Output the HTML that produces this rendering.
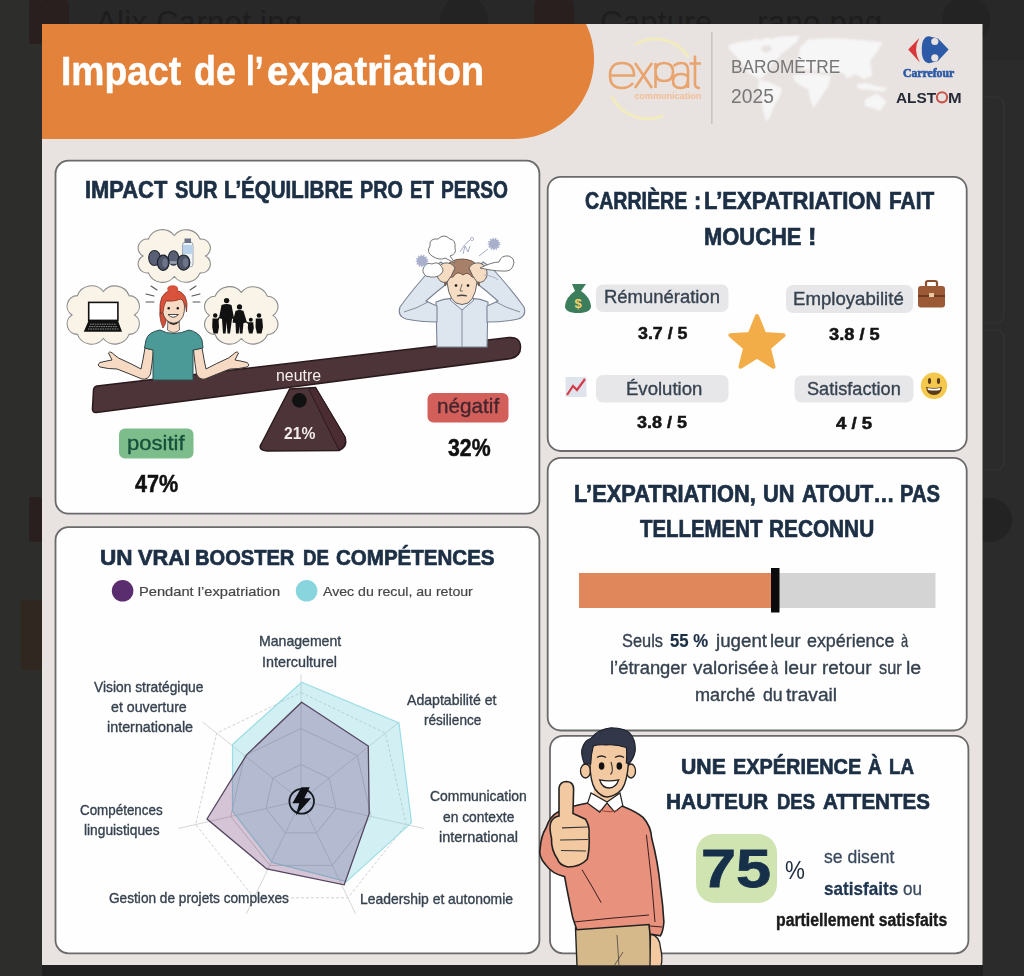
<!DOCTYPE html>
<html><head><meta charset="utf-8">
<style>
*{margin:0;padding:0;box-sizing:border-box}
html,body{width:1024px;height:976px;overflow:hidden;background:#2c2c2c;font-family:"Liberation Sans",sans-serif;position:relative}
.t{position:absolute;white-space:nowrap;transform-origin:0 0}
svg{position:absolute;left:0;top:0}
</style></head><body>
<svg width="1024" height="976" viewBox="0 0 1024 976">
<rect x="0" y="0" width="1024" height="976" fill="#2b2b2b"/>
<rect x="0" y="0" width="1024" height="60" fill="#282828"/>
<rect x="29" y="0" width="40" height="44" rx="5" fill="#2a1f1f"/>
<text x="96" y="33" font-family="Liberation Sans" font-size="31" fill="#1d1d1d" textLength="206">Alix Carnot.jpg</text>
<circle cx="464" cy="20" r="24" fill="#232323"/>
<rect x="534" y="0" width="40" height="44" rx="5" fill="#2a1f1f"/>
<text x="600" y="33" font-family="Liberation Sans" font-size="31" fill="#1d1d1d" textLength="282">Capture ... rano.png</text>
<circle cx="966" cy="20" r="24" fill="#232323"/>
<rect x="29" y="497" width="14" height="45" rx="4" fill="#2a1f1f"/>
<rect x="21" y="600" width="22" height="70" fill="#302720"/>
<circle cx="990" cy="520" r="22" fill="#232323"/>
<rect x="42" y="964" width="941" height="12" fill="#202020"/>
<rect x="0" y="0" width="42" height="976" fill="#2d2d2c"/>
<rect x="29" y="0" width="13" height="44" rx="3" fill="#2a1f1f"/>
<rect x="29" y="497" width="13" height="45" rx="3" fill="#2a1f1f"/>
<rect x="21" y="600" width="21" height="70" fill="#302720"/>
<rect x="950" y="97" width="54" height="226" rx="8" fill="none" stroke="#353535" stroke-width="1.2"/>
<rect x="950" y="330" width="54" height="140" rx="8" fill="none" stroke="#353535" stroke-width="1.2"/>

<rect x="42" y="24" width="940.5" height="941" fill="#e8e3e0"/>
<path d="M42 24 H586 A80 80 0 0 1 514 139 H42 Z" fill="#e3823b"/>
<rect x="55.5" y="160.7" width="483.9" height="353.0" rx="13" ry="13" fill="#fefefe" stroke="#6a6a6a" stroke-width="1.8"/>
<rect x="55.5" y="527.2" width="483.9" height="426.1" rx="13" ry="13" fill="#fefefe" stroke="#6a6a6a" stroke-width="1.8"/>
<rect x="547.7" y="176.8" width="419.0" height="274.2" rx="13" ry="13" fill="#fefefe" stroke="#6a6a6a" stroke-width="1.8"/>
<rect x="547.7" y="457.9" width="419.0" height="272.6" rx="13" ry="13" fill="#fefefe" stroke="#6a6a6a" stroke-width="1.8"/>
<rect x="550.0" y="735.9" width="418.4" height="217.4" rx="13" ry="13" fill="#fefefe" stroke="#6a6a6a" stroke-width="1.8"/>

<filter id="mapblur" filterUnits="userSpaceOnUse" x="700" y="20" width="210" height="120"><feGaussianBlur stdDeviation="0.9"/></filter>
<g fill="#f7f6f7" filter="url(#mapblur)">
<path d="M728 46 L736 43 L741 41.5 L750 41 L756 39 L761 40 L766 38 L772 39 L778 37 L786 36.5 L799 35.8 L797 42 L791 46 L787 50 L782 53 L778 58 L772 64 L769 70 L765 75 L760 79.5 L754 76 L748 72.5 L743 65 L737 57 L730 50 Z"/>
<path d="M762 46 L770 45 L772 50 L766 53 L761 50 Z" fill="#e8e3e0"/>
<path d="M759 80 L770 82.5 L782 88.6 L780 96 L774 106 L770 116.8 L766.4 121.5 L763 110 L761.7 98 L758 88 Z"/>
<path d="M800 47.4 L808.5 39.2 L831 38.2 L851.5 39.2 L882.3 42.3 L878 50.5 L870 60.8 L872 76 L863.8 79.2 L856 74 L847.4 78.2 L842 72 L835 73 L823.8 72 L812 70 L803 69 L797 62 L799 54 Z"/>
<path d="M793 75 L812 73.5 L831 76 L828 86.4 L821 97 L813.6 108 L810 99 L808.5 89.5 L800 85 L795 81.3 Z"/>
<path d="M865 99.7 L877 93.6 L886.4 101.8 L880 111 L872 108 L865 106 Z"/>
<path d="M856.7 84 L866 83 L876 86 L887.4 88 L884 91.5 L870 90 L858 89 Z"/>
</g>
<path d="M636 44 A40 40 0 0 1 688 56" fill="none" stroke="#f2ebc0" stroke-width="3" stroke-linecap="round"/>
<path d="M612 97 A40 40 0 0 0 662 116" fill="none" stroke="#f2ebc0" stroke-width="3" stroke-linecap="round"/>
<g fill="none" stroke="#e9a46e" stroke-width="2.6">
<path d="M610.5 75.5 L634 75.5 Q634 63 622 63 Q610 63 610 75.5 Q610 88 622 88 Q629 88 633 83"/>
<path d="M635 63 L652 88 M652 63 L635 88"/>
<path d="M655.5 63 L655.5 88 M655.5 72 Q655.5 63 664 63 Q673 63 673 72 Q673 81 664 81 Q655.5 81 655.5 72"/>
<path d="M673.5 66 Q677 63 681 63 Q688 63 688 70 L688 88 M688 79 Q688 88 680.5 88 Q673 88 673 81 Q673 74 681 74 Q686 74 688 77"/>
<path d="M695 55.5 L695 84 Q695 88 700 88 M689.5 63.5 L701 63.5"/>
</g>
<text x="634.5" y="98.6" font-family="Liberation Sans" font-weight="bold" font-size="9" fill="#f2bf98" textLength="67" lengthAdjust="spacingAndGlyphs">communication</text>
<rect x="711" y="32" width="1.6" height="92" fill="#c9c5c1"/>

<path d="M919.3 37.9 L908.2 49.6 L919.9 62.5 Q912.5 49.6 919.3 37.9 Z" fill="#d8383a"/>
<path d="M929 36.3 Q921.5 37 921.8 49.6 Q921.5 62.5 929 63.2 L938 61 L948.6 49.6 L938 38.5 Z" fill="#2d5aa6"/>
<circle cx="934.8" cy="41.5" r="3.6" fill="#e8e3e0"/>
<circle cx="934.8" cy="57.8" r="3.6" fill="#e8e3e0"/>
<circle cx="942" cy="97.3" r="5.1" fill="none" stroke="#c9554b" stroke-width="2.1"/>
</svg>
<svg width="1024" height="976" viewBox="0 0 1024 976">
<path d="M289.7 389 L315.5 387.5 L345 437 Q348 447 339 450.5 L267 451 Q257 450 261.5 443.5 Z" fill="#4d3438" stroke="#2b1a1d" stroke-width="1.4"/>
<path d="M308.5 388.6 L315.5 387.5 L345 437 Q347 446 339 450 Z" fill="#4a2c32" stroke="#2b1a1d" stroke-width="1"/>
<path d="M97 386 L509 337.5 Q520 336.5 520.5 346.5 Q521 356 511 358.5 L96.5 412.5 Q92 413 92.5 408 L93.5 390 Q94 386.4 97 386 Z" fill="#4d3438" stroke="#2b1a1d" stroke-width="1.5"/>
<circle cx="299.4" cy="400.4" r="7.3" fill="#111"/>

<rect x="119" y="428.5" width="74.5" height="30" rx="6" fill="#7dbd8c"/>
<rect x="427.5" y="393" width="81" height="29.5" rx="6" fill="#d35f5b"/>

<rect x="596" y="284.5" width="132.5" height="27.5" rx="7" fill="#e7e7e9"/>
<rect x="786" y="285" width="127" height="28" rx="7" fill="#e7e7e9"/>
<rect x="596" y="375" width="132.5" height="27.5" rx="7" fill="#e7e7e9"/>
<rect x="794.5" y="375.5" width="119" height="27" rx="7" fill="#e7e7e9"/>
<polygon points="757.0,316.0 764.3,333.9 783.6,335.3 768.9,347.9 773.5,366.7 757.0,356.5 740.5,366.7 745.1,347.9 730.4,335.3 749.7,333.9" fill="#f2ad48" stroke="#f2ad48" stroke-width="4" stroke-linejoin="round"/>
<!-- money bag -->
<path d="M572 284 L586 284 L581 291 Q590 297 591 306 Q591 313 578 313 Q565 313 565 306 Q566 297 575 291 Z" fill="#3c7d5c"/>
<text x="578" y="308" font-family="Liberation Sans" font-weight="bold" font-size="13" fill="#f2d46a" text-anchor="middle">$</text>
<!-- chart -->
<rect x="565.5" y="377" width="21" height="20" fill="#dfe4ec"/>
<path d="M567 395 L573 386 L577 390 L585 379" fill="none" stroke="#d43a4a" stroke-width="2.2"/>
<!-- briefcase -->
<rect x="926" y="281" width="11" height="7" rx="2" fill="none" stroke="#8a4f2e" stroke-width="2.2"/>
<rect x="918" y="286" width="27" height="21.5" rx="3" fill="#9b5a35"/>
<rect x="918" y="295" width="27" height="2" fill="#6e3c22"/>
<rect x="929" y="293" width="5" height="4" fill="#e8c9a0"/>
<!-- smiley -->
<circle cx="934" cy="385.8" r="13.2" fill="#f4c84c"/>
<ellipse cx="929.5" cy="381" rx="1.6" ry="3" fill="#5b3a1a"/>
<ellipse cx="938.5" cy="381" rx="1.6" ry="3" fill="#5b3a1a"/>
<path d="M926 387 Q934 389 942 387 Q941 395 934 395 Q927 395 926 387 Z" fill="#5b3a1a"/>
<path d="M927.5 388 Q934 389.5 940.5 388 L940 390 Q934 391 928 390 Z" fill="#fff"/>

<rect x="579" y="573" width="356.5" height="35" fill="#d4d4d4"/>
<rect x="579" y="573" width="193" height="35" fill="#e0875c"/>
<rect x="771" y="568" width="8.5" height="44.5" fill="#0b0b0b"/>
<rect x="696" y="834" width="81" height="69" rx="19" fill="#d0e4b2"/>
<circle cx="122.6" cy="590.8" r="10.8" fill="#5a2d6e"/>
<circle cx="306.6" cy="590.8" r="10.8" fill="#88d5de"/>

<polygon points="301.0,764.5 329.1,778.1 336.1,808.5 316.6,832.9 285.4,832.9 265.9,808.5 272.9,778.1" fill="none" stroke="#d0d0d0" stroke-width="1"/><polygon points="301.0,728.5 357.3,755.6 371.2,816.5 332.2,865.4 269.8,865.4 230.8,816.5 244.7,755.6" fill="none" stroke="#d0d0d0" stroke-width="1"/><polygon points="301.0,692.5 385.4,733.2 406.3,824.5 347.9,897.8 254.1,897.8 195.7,824.5 216.6,733.2" fill="none" stroke="#d2d2d2" stroke-width="1" stroke-dasharray="3 2"/><line x1="301" y1="800.5" x2="301.0" y2="674.5" stroke="#d6d6d6" stroke-width="1"/><line x1="301" y1="800.5" x2="399.5" y2="721.9" stroke="#d6d6d6" stroke-width="1"/><line x1="301" y1="800.5" x2="423.8" y2="828.5" stroke="#d6d6d6" stroke-width="1"/><line x1="301" y1="800.5" x2="355.7" y2="914.0" stroke="#d6d6d6" stroke-width="1"/><line x1="301" y1="800.5" x2="246.3" y2="914.0" stroke="#d6d6d6" stroke-width="1"/><line x1="301" y1="800.5" x2="178.2" y2="828.5" stroke="#d6d6d6" stroke-width="1"/><line x1="301" y1="800.5" x2="202.5" y2="721.9" stroke="#d6d6d6" stroke-width="1"/>
<polygon points="301.7,682.3 399,723 411.5,822.6 346.5,881.6 272.2,862.4 232.5,811 232.5,744.5" fill="rgba(120,212,224,0.33)" stroke="#9adde4" stroke-width="1.2"/>
<polygon points="301.7,702.2 368.3,746 369.2,813.7 344.2,884.8 266.8,869 207,819 246.6,754.8" fill="rgba(98,42,108,0.27)" stroke="#54465f" stroke-width="1.3"/>
<circle cx="301.7" cy="801.3" r="12.3" fill="none" stroke="#151a22" stroke-width="1.8"/>
<path d="M301.5 787.3 L309.8 787.3 L304.3 798.3 L311.2 798.3 L295.8 815.5 L299.3 803.2 L292.4 803.2 Z" fill="#0d0f14"/>
<path d="M174.3 235.5 A15.1 15.1 0 0 1 200.1 239.1 A9.0 9.0 0 0 1 205.5 256.0 A9.0 9.0 0 0 1 200.1 272.9 A15.1 15.1 0 0 1 174.3 276.5 A15.1 15.1 0 0 1 148.4 272.9 A9.0 9.0 0 0 1 143.0 256.0 A9.0 9.0 0 0 1 148.4 239.1 A15.1 15.1 0 0 1 174.3 235.5 Z" fill="#f9f4e7" stroke="#8c8c8c" stroke-width="1.1"/><path d="M103.3 291.5 A15.1 15.1 0 0 1 129.1 295.6 A10.5 10.5 0 0 1 134.5 315.0 A10.5 10.5 0 0 1 129.1 334.4 A15.1 15.1 0 0 1 103.3 338.5 A15.1 15.1 0 0 1 77.4 334.4 A10.5 10.5 0 0 1 72.0 315.0 A10.5 10.5 0 0 1 77.4 295.6 A15.1 15.1 0 0 1 103.3 291.5 Z" fill="#f9f4e7" stroke="#8c8c8c" stroke-width="1.1"/><path d="M241.3 292.3 A15.5 15.5 0 0 1 267.5 296.3 A10.3 10.3 0 0 1 273.0 315.4 A10.3 10.3 0 0 1 267.5 334.5 A15.5 15.5 0 0 1 241.3 338.5 A15.5 15.5 0 0 1 215.0 334.5 A10.3 10.3 0 0 1 209.5 315.4 A10.3 10.3 0 0 1 215.0 296.3 A15.5 15.5 0 0 1 241.3 292.3 Z" fill="#f9f4e7" stroke="#8c8c8c" stroke-width="1.1"/>
<rect x="88.7" y="302.4" width="29.2" height="18" fill="#fff" stroke="#111" stroke-width="1.6"/>
<path d="M88.4 321 L118.1 321 L122 331.8 L83.75 331.8 Z" fill="#111"/>
<path d="M90 324.2 L116.5 324.2 M89 326.6 L117.5 326.6 M88 329 L118.5 329" stroke="#9a9a9a" stroke-width="0.9" stroke-dasharray="1.6 0.8"/>

<rect x="155" y="256.5" width="19" height="2.6" fill="#8a90a0"/>
<ellipse cx="154.5" cy="258" rx="5.8" ry="7.5" fill="#596075" stroke="#252a36" stroke-width="1.1"/>
<ellipse cx="173.5" cy="258" rx="5.2" ry="7.3" fill="#596075" stroke="#252a36" stroke-width="1.1"/>
<rect x="182.5" y="242" width="10.5" height="25" rx="3" fill="#eef3f8" stroke="#8a96a6" stroke-width="0.8"/>
<rect x="184.5" y="238.5" width="6.5" height="4.5" fill="#6a7484"/>
<rect x="183" y="245" width="9.5" height="9" fill="#b9d3ea"/>
<rect x="164" y="261.2" width="21" height="2.6" fill="#9aa0ae"/>
<ellipse cx="163.2" cy="262.8" rx="5.8" ry="7.6" fill="#4f566a" stroke="#1e222c" stroke-width="1.2"/>
<ellipse cx="183.6" cy="262.6" rx="6.2" ry="7.6" fill="#4f566a" stroke="#1e222c" stroke-width="1.2"/>
<ellipse cx="165" cy="262.8" rx="2.6" ry="4.5" fill="#6d7488"/>
<ellipse cx="185.5" cy="262.6" rx="2.6" ry="4.5" fill="#6d7488"/>
<g fill="#111">
<circle cx="226.6" cy="300.6" r="2.7"/>
<path d="M221.5 305 Q226.5 303 231.5 305 L234 318 L232 319 L230 333.4 L227.5 333.4 L226.6 322 L225.6 333.4 L223 333.4 L222 319 L219 318 Z"/>
<circle cx="239.5" cy="306.9" r="2.6"/>
<path d="M235.5 311 Q239.5 309 243.5 311 L247 322.5 L243.5 323 L242.5 333.4 L239.8 333.4 L239.5 326 L238.7 333.4 L236 333.4 L235.5 323 L232.5 322.5 Z"/>
<circle cx="215.2" cy="315.5" r="2.2"/>
<path d="M212.5 318.5 L218.5 318.5 L219 327 L217.8 333.4 L213.5 333.4 L212.2 327 Z"/>
<circle cx="250.8" cy="319.8" r="2"/>
<path d="M248.2 322.3 L253.2 322.3 L253.8 328 L252.5 333.4 L249 333.4 L247.8 328 Z"/>
<circle cx="259" cy="315.5" r="2.3"/>
<path d="M255.8 318.5 L262.2 318.5 L263 327 L261.5 333.4 L257 333.4 L255.5 327 Z"/>
</g>
<path d="M219.5 317 L218 320 M246.5 322 L248.5 323.5 M234 317.5 L233.5 321" stroke="#111" stroke-width="1.4"/>
<!-- arms -->
<path d="M145 348 L153.5 350 Q152 365 150.5 374 Q148 380 142 379 Q130 374 117 369 Q108 369 100 367 Q96.5 365 100 362.5 Q106 361 112 360 L108.5 353 Q110 350.5 114 354.5 L118.5 358 Q132 364 141 369 Q143 360 145 348 Z" fill="#f6dac3" stroke="#3a3a3a" stroke-width="1"/>
<path d="M202 348 L193.5 350 Q195 365 196.5 374 Q199 380 205 379 Q217 374 230 369 Q239 369 247 367 Q250.5 365 247 362.5 Q241 361 235 360 L238.5 353 Q237 350.5 233 354.5 L228.5 358 Q215 364 206 369 Q204 360 202 348 Z" fill="#f6dac3" stroke="#3a3a3a" stroke-width="1"/>
<!-- shirt -->
<path d="M160 330 Q173 337 189 330 Q199 332 202 340 L203 348 L193 350 L193 380 L153 380 L153 350 L144.5 348 L146 340 Q148 332 160 330 Z" fill="#4b9a98" stroke="#2f4f50" stroke-width="1"/>
<!-- neck -->
<path d="M168 316 L167.5 330 Q173.5 335 179.5 330 L179 316 Z" fill="#f6dac3" stroke="#3a3a3a" stroke-width="0.7"/>
<path d="M167.8 320 Q173.5 323 179.2 320 L179.2 322 Q173.5 328 167.8 322 Z" fill="#2a2222"/>
<!-- hair back / ponytail -->
<path d="M162 300 Q157 315 163 328 Q168 322 167 305 Z" fill="#d2503a" stroke="#7a2a1c" stroke-width="0.7"/>
<!-- face -->
<path d="M162.5 306 Q162 318 169 322 Q173.5 324.5 178 322 Q185 318 184.5 306 Q184 296 173.5 295 Q163 296 162.5 306 Z" fill="#f6dac3" stroke="#3a3a3a" stroke-width="0.8"/>
<!-- hair -->
<path d="M160.5 314 Q157 292 173.5 289.5 Q190 292 186.5 312 Q185.5 302 181 299 Q174 302 166 301 Q163.5 306 163 312 Z" fill="#d9523c" stroke="#7a2a1c" stroke-width="0.7"/>
<ellipse cx="172.7" cy="289" rx="5.5" ry="3.8" fill="#d9523c"/>
<circle cx="168.7" cy="308.3" r="1.2" fill="#111"/>
<circle cx="177.8" cy="308.3" r="1.2" fill="#111"/>
<path d="M168 314.5 Q173 320 178.5 314.5 Z" fill="#fff" stroke="#333" stroke-width="0.9"/>
<!-- excitement lines -->
<path d="M151 286 L157 290 M146 294 L154 296 M146 302 L154 302 M196 286 L190 290 M200 294 L192 296 M200 302 L193 302" stroke="#555" stroke-width="1.1" stroke-linecap="round"/>

<!-- torso -->
<path d="M436 302 Q449 296 462 300 Q475 296 488 302 L487 347 L437 347 Z" fill="#dde5ef" stroke="#7a8494" stroke-width="1.1"/>
<!-- left arm -->
<path d="M441 262 Q452 272 449 282 Q436 292 426 301 Q432 304 437 306 L437 322 Q420 322 406 319 Q397 316 400 307 Q412 290 432 268 Z" fill="#dde5ef" stroke="#7a8494" stroke-width="1.1"/>
<!-- right arm -->
<path d="M483 262 Q472 272 475 282 Q488 292 498 301 Q492 304 487 306 L487 322 Q504 322 518 319 Q527 316 524 307 Q512 290 492 268 Z" fill="#dde5ef" stroke="#7a8494" stroke-width="1.1"/>
<path d="M404 312 Q418 308 428 302 M520 312 Q506 308 496 302" stroke="#7a8494" stroke-width="0.9" fill="none"/>
<!-- collar -->
<path d="M450 300 L462 310 L474 300 L470 296 L462 302 L454 296 Z" fill="#e8eef5" stroke="#7a8494" stroke-width="1"/>
<path d="M462 310 L462 347" stroke="#7a8494" stroke-width="0.9"/>
<!-- neck shadow -->
<path d="M454 296 Q462 303 470 296 L466 292 Q462 295 458 292 Z" fill="#222"/>
<!-- face -->
<path d="M447 272 Q446 296 456 303 Q462 306 468 303 Q478 296 477 272 Q462 264 447 272 Z" fill="#f5dcc2" stroke="#555" stroke-width="0.9"/>
<circle cx="456" cy="285.5" r="1.3" fill="#111"/>
<circle cx="468" cy="285.5" r="1.3" fill="#111"/>
<path d="M462 284 L460 291 L463 291" stroke="#555" stroke-width="0.8" fill="none"/>
<path d="M457 296 Q462 294.5 467 296" stroke="#444" stroke-width="1.3" fill="none"/>
<!-- hair -->
<path d="M445 286 Q441 266 452 261 Q462 257 472 261 Q483 266 479 286 Q476 276 472 277 Q468 271 463 275 Q457 270 453 277 Q449 276 445 286 Z" fill="#a8806a" stroke="#5a4030" stroke-width="0.8"/>
<!-- hands -->
<path d="M437 276 Q436 266 444 263 Q452 262 455 268 Q452 276 447 282 Q440 284 437 276 Z" fill="#f5dcc2" stroke="#555" stroke-width="0.9"/>
<path d="M487 276 Q488 266 480 263 Q472 262 469 268 Q472 276 477 282 Q484 284 487 276 Z" fill="#f5dcc2" stroke="#555" stroke-width="0.9"/>
<!-- smoke & spiky -->
<path d="M432 256 Q426 252 430 246 Q429 238 438 239 Q444 233 450 239 Q456 240 455 248 Q457 254 450 256 L455 263 L445 258 Q440 261 432 256 Z" fill="#fff" stroke="#666" stroke-width="0.9"/>
<path d="M426 276 Q421 272 424 267 Q426 262 432 264 Q438 261 441 266 Q445 270 441 274 Q436 279 426 276 Z" fill="#fff" stroke="#666" stroke-width="0.9"/>
<path d="M480 268 Q492 262 499 262 Q501 255 509 256 Q516 259 513 266 Q511 272 502 271 Q494 271 480 268 Z" fill="#fff" stroke="#666" stroke-width="0.9"/>
<circle cx="422" cy="261" r="5" fill="#a8b0cc" stroke="#a8b0cc" stroke-width="2.5" stroke-dasharray="1.2 1.2"/>
<circle cx="494" cy="244" r="5" fill="#a8b0cc" stroke="#a8b0cc" stroke-width="2.5" stroke-dasharray="1.2 1.2"/>
<path d="M460 252 Q464 244 470 240 M479 256 L488 249 M484 275 Q494 276 498 280 M463 254 L465 246 L468 252 L470 246" stroke="#a8aec6" stroke-width="1" fill="none"/>
<circle cx="472" cy="239" r="1.6" fill="none" stroke="#a8aec6" stroke-width="0.9"/>
</svg>
<div class="t" style="left:60.94px;top:50.84px;font-size:40px;line-height:40px;font-weight:bold;color:#ffffff;font-family:'Liberation Sans',sans-serif;transform:scaleX(0.9312);-webkit-text-stroke:0.5px #ffffff;">Impact</div><div class="t" style="left:193.70px;top:50.84px;font-size:40px;line-height:40px;font-weight:bold;color:#ffffff;font-family:'Liberation Sans',sans-serif;transform:scaleX(0.8957);-webkit-text-stroke:0.5px #ffffff;">de</div><div class="t" style="left:245.73px;top:50.84px;font-size:40px;line-height:40px;font-weight:bold;color:#ffffff;font-family:'Liberation Sans',sans-serif;transform:scaleX(0.7840);-webkit-text-stroke:0.5px #ffffff;">l’</div><div class="t" style="left:266.54px;top:50.84px;font-size:40px;line-height:40px;font-weight:bold;color:#ffffff;font-family:'Liberation Sans',sans-serif;transform:scaleX(0.9584);-webkit-text-stroke:0.5px #ffffff;">expatriation</div><div class="t" style="left:730.77px;top:58.34px;font-size:18.5px;line-height:18.5px;font-weight:normal;color:#777777;font-family:'Liberation Sans',sans-serif;transform:scaleX(0.9332);">BAROMÈTRE</div><div class="t" style="left:731.00px;top:87.49px;font-size:19.5px;line-height:19.5px;font-weight:normal;color:#777777;font-family:'Liberation Sans',sans-serif;transform:scaleX(0.9877);">2025</div><div class="t" style="left:895.50px;top:90.05px;font-size:15px;line-height:15px;font-weight:bold;color:#262a36;font-family:'Liberation Sans',sans-serif;transform:scaleX(1.0256);">ALST</div><div class="t" style="left:948.41px;top:90.05px;font-size:15px;line-height:15px;font-weight:bold;color:#262a36;font-family:'Liberation Sans',sans-serif;transform:scaleX(1.0909);">M</div><div class="t" style="left:902.60px;top:67.67px;font-size:11.5px;line-height:11.5px;font-weight:bold;color:#2d5aa6;font-family:'Liberation Serif',sans-serif;transform:scaleX(1.0172);-webkit-text-stroke:0.6px #2d5aa6;">Carrefour</div><div class="t" style="left:84.96px;top:179.19px;font-size:23.4px;line-height:23.4px;font-weight:bold;color:#1c2f45;font-family:'Liberation Sans',sans-serif;transform:scaleX(0.9357);-webkit-text-stroke:0.7px #1c2f45;">IMPACT</div><div class="t" style="left:174.50px;top:179.19px;font-size:23.4px;line-height:23.4px;font-weight:bold;color:#1c2f45;font-family:'Liberation Sans',sans-serif;transform:scaleX(0.8587);-webkit-text-stroke:0.7px #1c2f45;">SUR</div><div class="t" style="left:224.22px;top:179.19px;font-size:23.4px;line-height:23.4px;font-weight:bold;color:#1c2f45;font-family:'Liberation Sans',sans-serif;transform:scaleX(0.8778);-webkit-text-stroke:0.7px #1c2f45;">L’ÉQUILIBRE</div><div class="t" style="left:359.86px;top:179.19px;font-size:23.4px;line-height:23.4px;font-weight:bold;color:#1c2f45;font-family:'Liberation Sans',sans-serif;transform:scaleX(0.8446);-webkit-text-stroke:0.7px #1c2f45;">PRO</div><div class="t" style="left:409.71px;top:179.19px;font-size:23.4px;line-height:23.4px;font-weight:bold;color:#1c2f45;font-family:'Liberation Sans',sans-serif;transform:scaleX(0.7939);-webkit-text-stroke:0.7px #1c2f45;">ET</div><div class="t" style="left:441.18px;top:179.19px;font-size:23.4px;line-height:23.4px;font-weight:bold;color:#1c2f45;font-family:'Liberation Sans',sans-serif;transform:scaleX(0.8179);-webkit-text-stroke:0.7px #1c2f45;">PERSO</div><div class="t" style="left:276.43px;top:366.92px;font-size:16.4px;line-height:16.4px;font-weight:normal;color:#f4eeee;font-family:'Liberation Sans',sans-serif;transform:scaleX(0.9700);">neutre</div><div class="t" style="left:283.80px;top:425.11px;font-size:17px;line-height:17px;font-weight:bold;color:#f4eeee;font-family:'Liberation Sans',sans-serif;transform:scaleX(0.9201);">21%</div><div class="t" style="left:127.25px;top:431.52px;font-size:21px;line-height:21px;font-weight:normal;color:#16503a;font-family:'Liberation Sans',sans-serif;transform:scaleX(1.0495);-webkit-text-stroke:0.35px #16503a;">positif</div><div class="t" style="left:436.51px;top:394.82px;font-size:21px;line-height:21px;font-weight:normal;color:#43262e;font-family:'Liberation Sans',sans-serif;transform:scaleX(0.9853);-webkit-text-stroke:0.35px #43262e;">négatif</div><div class="t" style="left:135.00px;top:473.03px;font-size:23px;line-height:23px;font-weight:bold;color:#111111;font-family:'Liberation Sans',sans-serif;transform:scaleX(0.9368);-webkit-text-stroke:0.5px #111111;">47%</div><div class="t" style="left:448.30px;top:437.03px;font-size:23px;line-height:23px;font-weight:bold;color:#111111;font-family:'Liberation Sans',sans-serif;transform:scaleX(0.9236);-webkit-text-stroke:0.5px #111111;">32%</div><div class="t" style="left:99.85px;top:548.38px;font-size:21.4px;line-height:21.4px;font-weight:bold;color:#1c2f45;font-family:'Liberation Sans',sans-serif;transform:scaleX(1.0546);-webkit-text-stroke:0.7px #1c2f45;">UN</div><div class="t" style="left:137.50px;top:548.38px;font-size:21.4px;line-height:21.4px;font-weight:bold;color:#1c2f45;font-family:'Liberation Sans',sans-serif;transform:scaleX(1.0207);-webkit-text-stroke:0.7px #1c2f45;">VRAI</div><div class="t" style="left:195.16px;top:548.38px;font-size:21.4px;line-height:21.4px;font-weight:bold;color:#1c2f45;font-family:'Liberation Sans',sans-serif;transform:scaleX(0.9390);-webkit-text-stroke:0.7px #1c2f45;">BOOSTER</div><div class="t" style="left:302.92px;top:548.38px;font-size:21.4px;line-height:21.4px;font-weight:bold;color:#1c2f45;font-family:'Liberation Sans',sans-serif;transform:scaleX(0.8753);-webkit-text-stroke:0.7px #1c2f45;">DE</div><div class="t" style="left:336.10px;top:548.38px;font-size:21.4px;line-height:21.4px;font-weight:bold;color:#1c2f45;font-family:'Liberation Sans',sans-serif;transform:scaleX(0.9598);-webkit-text-stroke:0.7px #1c2f45;">COMPÉTENCES</div><div class="t" style="left:138.90px;top:585.16px;font-size:13.4px;line-height:13.4px;font-weight:normal;color:#474747;font-family:'Liberation Sans',sans-serif;transform:scaleX(1.0955);-webkit-text-stroke:0.2px #474747;">Pendant l’expatriation</div><div class="t" style="left:323.20px;top:585.16px;font-size:13.4px;line-height:13.4px;font-weight:normal;color:#474747;font-family:'Liberation Sans',sans-serif;transform:scaleX(1.0557);-webkit-text-stroke:0.2px #474747;">Avec du recul, au retour</div><div class="t" style="left:258.53px;top:634.33px;font-size:14.5px;line-height:14.5px;font-weight:normal;color:#36424f;font-family:'Liberation Sans',sans-serif;transform:scaleX(0.9712);-webkit-text-stroke:0.35px #36424f;">Management</div><div class="t" style="left:261.81px;top:654.53px;font-size:14.5px;line-height:14.5px;font-weight:normal;color:#36424f;font-family:'Liberation Sans',sans-serif;transform:scaleX(0.9901);-webkit-text-stroke:0.35px #36424f;">Interculturel</div><div class="t" style="left:94.00px;top:680.23px;font-size:14.5px;line-height:14.5px;font-weight:normal;color:#36424f;font-family:'Liberation Sans',sans-serif;transform:scaleX(0.9518);-webkit-text-stroke:0.35px #36424f;">Vision stratégique</div><div class="t" style="left:110.50px;top:699.73px;font-size:14.5px;line-height:14.5px;font-weight:normal;color:#36424f;font-family:'Liberation Sans',sans-serif;transform:scaleX(0.9791);-webkit-text-stroke:0.35px #36424f;">et ouverture</div><div class="t" style="left:107.00px;top:720.33px;font-size:14.5px;line-height:14.5px;font-weight:normal;color:#36424f;font-family:'Liberation Sans',sans-serif;transform:scaleX(0.9885);-webkit-text-stroke:0.35px #36424f;">internationale</div><div class="t" style="left:406.80px;top:692.73px;font-size:14.5px;line-height:14.5px;font-weight:normal;color:#36424f;font-family:'Liberation Sans',sans-serif;transform:scaleX(0.9731);-webkit-text-stroke:0.35px #36424f;">Adaptabilité et</div><div class="t" style="left:424.40px;top:712.73px;font-size:14.5px;line-height:14.5px;font-weight:normal;color:#36424f;font-family:'Liberation Sans',sans-serif;transform:scaleX(0.9349);-webkit-text-stroke:0.35px #36424f;">résilience</div><div class="t" style="left:429.80px;top:788.73px;font-size:14.5px;line-height:14.5px;font-weight:normal;color:#36424f;font-family:'Liberation Sans',sans-serif;transform:scaleX(0.9606);-webkit-text-stroke:0.35px #36424f;">Communication</div><div class="t" style="left:442.50px;top:809.73px;font-size:14.5px;line-height:14.5px;font-weight:normal;color:#36424f;font-family:'Liberation Sans',sans-serif;transform:scaleX(0.9519);-webkit-text-stroke:0.35px #36424f;">en contexte</div><div class="t" style="left:439.00px;top:830.43px;font-size:14.5px;line-height:14.5px;font-weight:normal;color:#36424f;font-family:'Liberation Sans',sans-serif;transform:scaleX(0.9990);-webkit-text-stroke:0.35px #36424f;">international</div><div class="t" style="left:80.10px;top:803.03px;font-size:14.5px;line-height:14.5px;font-weight:normal;color:#36424f;font-family:'Liberation Sans',sans-serif;transform:scaleX(0.9236);-webkit-text-stroke:0.35px #36424f;">Compétences</div><div class="t" style="left:84.00px;top:822.53px;font-size:14.5px;line-height:14.5px;font-weight:normal;color:#36424f;font-family:'Liberation Sans',sans-serif;transform:scaleX(0.9478);-webkit-text-stroke:0.35px #36424f;">linguistiques</div><div class="t" style="left:108.60px;top:891.03px;font-size:14.5px;line-height:14.5px;font-weight:normal;color:#36424f;font-family:'Liberation Sans',sans-serif;transform:scaleX(0.9420);-webkit-text-stroke:0.35px #36424f;">Gestion de projets complexes</div><div class="t" style="left:360.04px;top:891.53px;font-size:14.5px;line-height:14.5px;font-weight:normal;color:#36424f;font-family:'Liberation Sans',sans-serif;transform:scaleX(0.9587);-webkit-text-stroke:0.35px #36424f;">Leadership et autonomie</div><div class="t" style="left:585.10px;top:190.19px;font-size:23.4px;line-height:23.4px;font-weight:bold;color:#1c2f45;font-family:'Liberation Sans',sans-serif;transform:scaleX(0.8374);-webkit-text-stroke:0.7px #1c2f45;">CARRIÈRE</div><div class="t" style="left:693.85px;top:190.19px;font-size:23.4px;line-height:23.4px;font-weight:bold;color:#1c2f45;font-family:'Liberation Sans',sans-serif;transform:scaleX(0.9250);-webkit-text-stroke:0.7px #1c2f45;">:</div><div class="t" style="left:704.26px;top:190.19px;font-size:23.4px;line-height:23.4px;font-weight:bold;color:#1c2f45;font-family:'Liberation Sans',sans-serif;transform:scaleX(0.9414);-webkit-text-stroke:0.7px #1c2f45;">L’EXPATRIATION</div><div class="t" style="left:888.61px;top:190.19px;font-size:23.4px;line-height:23.4px;font-weight:bold;color:#1c2f45;font-family:'Liberation Sans',sans-serif;transform:scaleX(0.8911);-webkit-text-stroke:0.7px #1c2f45;">FAIT</div><div class="t" style="left:703.56px;top:225.59px;font-size:23.4px;line-height:23.4px;font-weight:bold;color:#1c2f45;font-family:'Liberation Sans',sans-serif;transform:scaleX(0.9369);-webkit-text-stroke:0.7px #1c2f45;">MOUCHE</div><div class="t" style="left:807.70px;top:225.59px;font-size:23.4px;line-height:23.4px;font-weight:bold;color:#1c2f45;font-family:'Liberation Sans',sans-serif;transform:scaleX(1.1000);-webkit-text-stroke:0.7px #1c2f45;">!</div><div class="t" style="left:604.00px;top:288.34px;font-size:18.5px;line-height:18.5px;font-weight:normal;color:#36424f;font-family:'Liberation Sans',sans-serif;transform:scaleX(0.9973);-webkit-text-stroke:0.35px #36424f;">Rémunération</div><div class="t" style="left:793.49px;top:289.84px;font-size:18.5px;line-height:18.5px;font-weight:normal;color:#36424f;font-family:'Liberation Sans',sans-serif;transform:scaleX(1.0070);-webkit-text-stroke:0.35px #36424f;">Employabilité</div><div class="t" style="left:626.00px;top:379.84px;font-size:18.5px;line-height:18.5px;font-weight:normal;color:#36424f;font-family:'Liberation Sans',sans-serif;transform:scaleX(1.0025);-webkit-text-stroke:0.35px #36424f;">Évolution</div><div class="t" style="left:807.00px;top:379.54px;font-size:18.5px;line-height:18.5px;font-weight:normal;color:#36424f;font-family:'Liberation Sans',sans-serif;transform:scaleX(0.9806);-webkit-text-stroke:0.35px #36424f;">Satisfaction</div><div class="t" style="left:637.50px;top:326.46px;font-size:16px;line-height:16px;font-weight:bold;color:#141414;font-family:'Liberation Sans',sans-serif;transform:scaleX(1.1127);-webkit-text-stroke:0.5px #141414;">3.7 / 5</div><div class="t" style="left:829.00px;top:327.06px;font-size:16px;line-height:16px;font-weight:bold;color:#141414;font-family:'Liberation Sans',sans-serif;transform:scaleX(1.1396);-webkit-text-stroke:0.5px #141414;">3.8 / 5</div><div class="t" style="left:637.00px;top:415.46px;font-size:16px;line-height:16px;font-weight:bold;color:#141414;font-family:'Liberation Sans',sans-serif;transform:scaleX(1.1216);-webkit-text-stroke:0.5px #141414;">3.8 / 5</div><div class="t" style="left:836.00px;top:415.66px;font-size:16px;line-height:16px;font-weight:bold;color:#141414;font-family:'Liberation Sans',sans-serif;transform:scaleX(1.1622);-webkit-text-stroke:0.5px #141414;">4 / 5</div><div class="t" style="left:574.35px;top:482.53px;font-size:23px;line-height:23px;font-weight:bold;color:#1c2f45;font-family:'Liberation Sans',sans-serif;transform:scaleX(0.9483);-webkit-text-stroke:0.7px #1c2f45;">L’EXPATRIATION,</div><div class="t" style="left:762.65px;top:482.53px;font-size:23px;line-height:23px;font-weight:bold;color:#1c2f45;font-family:'Liberation Sans',sans-serif;transform:scaleX(0.9491);-webkit-text-stroke:0.7px #1c2f45;">UN</div><div class="t" style="left:801.50px;top:482.53px;font-size:23px;line-height:23px;font-weight:bold;color:#1c2f45;font-family:'Liberation Sans',sans-serif;transform:scaleX(0.9257);-webkit-text-stroke:0.7px #1c2f45;">ATOUT…</div><div class="t" style="left:900.12px;top:482.53px;font-size:23px;line-height:23px;font-weight:bold;color:#1c2f45;font-family:'Liberation Sans',sans-serif;transform:scaleX(0.8792);-webkit-text-stroke:0.7px #1c2f45;">PAS</div><div class="t" style="left:639.50px;top:517.53px;font-size:23px;line-height:23px;font-weight:bold;color:#1c2f45;font-family:'Liberation Sans',sans-serif;transform:scaleX(0.8866);-webkit-text-stroke:0.7px #1c2f45;">TELLEMENT</div><div class="t" style="left:769.40px;top:517.53px;font-size:23px;line-height:23px;font-weight:bold;color:#1c2f45;font-family:'Liberation Sans',sans-serif;transform:scaleX(0.9043);-webkit-text-stroke:0.7px #1c2f45;">RECONNU</div><div class="t" style="left:622.30px;top:632.06px;font-size:18px;line-height:18px;font-weight:normal;color:#36424f;font-family:'Liberation Sans',sans-serif;transform:scaleX(0.9106);-webkit-text-stroke:0.35px #36424f;">Seuls</div><div class="t" style="left:669.90px;top:632.06px;font-size:18px;line-height:18px;font-weight:bold;color:#1c2f45;font-family:'Liberation Sans',sans-serif;transform:scaleX(0.9288);-webkit-text-stroke:0.2px #1c2f45;">55 %</div><div class="t" style="left:715.64px;top:632.06px;font-size:18px;line-height:18px;font-weight:normal;color:#36424f;font-family:'Liberation Sans',sans-serif;transform:scaleX(1.0411);-webkit-text-stroke:0.35px #36424f;">jugent</div><div class="t" style="left:769.58px;top:632.06px;font-size:18px;line-height:18px;font-weight:normal;color:#36424f;font-family:'Liberation Sans',sans-serif;transform:scaleX(1.0234);-webkit-text-stroke:0.35px #36424f;">leur</div><div class="t" style="left:806.60px;top:632.06px;font-size:18px;line-height:18px;font-weight:normal;color:#36424f;font-family:'Liberation Sans',sans-serif;transform:scaleX(0.9927);-webkit-text-stroke:0.35px #36424f;">expérience</div><div class="t" style="left:901.10px;top:632.06px;font-size:18px;line-height:18px;font-weight:normal;color:#36424f;font-family:'Liberation Sans',sans-serif;transform:scaleX(0.7091);-webkit-text-stroke:0.35px #36424f;">à</div><div class="t" style="left:610.28px;top:659.06px;font-size:18px;line-height:18px;font-weight:normal;color:#36424f;font-family:'Liberation Sans',sans-serif;transform:scaleX(1.0223);-webkit-text-stroke:0.35px #36424f;">l’étranger</div><div class="t" style="left:693.30px;top:659.06px;font-size:18px;line-height:18px;font-weight:normal;color:#36424f;font-family:'Liberation Sans',sans-serif;transform:scaleX(1.0510);-webkit-text-stroke:0.35px #36424f;">valorisée</div><div class="t" style="left:771.30px;top:659.06px;font-size:18px;line-height:18px;font-weight:normal;color:#36424f;font-family:'Liberation Sans',sans-serif;transform:scaleX(0.7000);-webkit-text-stroke:0.35px #36424f;">à</div><div class="t" style="left:784.22px;top:659.06px;font-size:18px;line-height:18px;font-weight:normal;color:#36424f;font-family:'Liberation Sans',sans-serif;transform:scaleX(1.0785);-webkit-text-stroke:0.35px #36424f;">leur</div><div class="t" style="left:821.75px;top:659.06px;font-size:18px;line-height:18px;font-weight:normal;color:#36424f;font-family:'Liberation Sans',sans-serif;transform:scaleX(1.0537);-webkit-text-stroke:0.35px #36424f;">retour</div><div class="t" style="left:879.00px;top:659.06px;font-size:18px;line-height:18px;font-weight:normal;color:#36424f;font-family:'Liberation Sans',sans-serif;transform:scaleX(0.9076);-webkit-text-stroke:0.35px #36424f;">sur</div><div class="t" style="left:906.12px;top:659.06px;font-size:18px;line-height:18px;font-weight:normal;color:#36424f;font-family:'Liberation Sans',sans-serif;transform:scaleX(1.0847);-webkit-text-stroke:0.35px #36424f;">le</div><div class="t" style="left:695.30px;top:686.36px;font-size:18px;line-height:18px;font-weight:normal;color:#36424f;font-family:'Liberation Sans',sans-serif;transform:scaleX(1.0049);-webkit-text-stroke:0.35px #36424f;">marché</div><div class="t" style="left:762.70px;top:686.36px;font-size:18px;line-height:18px;font-weight:normal;color:#36424f;font-family:'Liberation Sans',sans-serif;transform:scaleX(0.9837);-webkit-text-stroke:0.35px #36424f;">du</div><div class="t" style="left:786.10px;top:686.36px;font-size:18px;line-height:18px;font-weight:normal;color:#36424f;font-family:'Liberation Sans',sans-serif;transform:scaleX(1.0635);-webkit-text-stroke:0.35px #36424f;">travail</div><div class="t" style="left:680.64px;top:755.58px;font-size:22px;line-height:22px;font-weight:bold;color:#1c2f45;font-family:'Liberation Sans',sans-serif;transform:scaleX(0.9648);-webkit-text-stroke:0.7px #1c2f45;">UNE</div><div class="t" style="left:732.70px;top:755.58px;font-size:22px;line-height:22px;font-weight:bold;color:#1c2f45;font-family:'Liberation Sans',sans-serif;transform:scaleX(0.9041);-webkit-text-stroke:0.7px #1c2f45;">EXPÉRIENCE</div><div class="t" style="left:867.60px;top:755.58px;font-size:22px;line-height:22px;font-weight:bold;color:#1c2f45;font-family:'Liberation Sans',sans-serif;transform:scaleX(0.8687);-webkit-text-stroke:0.7px #1c2f45;">À</div><div class="t" style="left:888.75px;top:755.58px;font-size:22px;line-height:22px;font-weight:bold;color:#1c2f45;font-family:'Liberation Sans',sans-serif;transform:scaleX(0.8510);-webkit-text-stroke:0.7px #1c2f45;">LA</div><div class="t" style="left:666.15px;top:790.68px;font-size:22px;line-height:22px;font-weight:bold;color:#1c2f45;font-family:'Liberation Sans',sans-serif;transform:scaleX(0.9488);-webkit-text-stroke:0.7px #1c2f45;">HAUTEUR</div><div class="t" style="left:777.06px;top:790.68px;font-size:22px;line-height:22px;font-weight:bold;color:#1c2f45;font-family:'Liberation Sans',sans-serif;transform:scaleX(0.8402);-webkit-text-stroke:0.7px #1c2f45;">DES</div><div class="t" style="left:822.60px;top:790.68px;font-size:22px;line-height:22px;font-weight:bold;color:#1c2f45;font-family:'Liberation Sans',sans-serif;transform:scaleX(0.9340);-webkit-text-stroke:0.7px #1c2f45;">ATTENTES</div><div class="t" style="left:700.82px;top:842.14px;font-size:53px;line-height:53px;font-weight:bold;color:#17304a;font-family:'Liberation Sans',sans-serif;transform:scaleX(1.1879);-webkit-text-stroke:0.8px #17304a;">75</div><div class="t" style="left:785.00px;top:857.84px;font-size:25px;line-height:25px;font-weight:normal;color:#1c2c3c;font-family:'Liberation Sans',sans-serif;transform:scaleX(0.8955);">%</div><div class="t" style="left:824.00px;top:847.12px;font-size:19px;line-height:19px;font-weight:normal;color:#3a4a5e;font-family:'Liberation Sans',sans-serif;transform:scaleX(0.9249);-webkit-text-stroke:0.3px #3a4a5e;">se disent</div><div class="t" style="left:824.00px;top:878.82px;font-size:19px;line-height:19px;font-weight:normal;color:#3a4a5e;font-family:'Liberation Sans',sans-serif;transform:scaleX(0.9009);-webkit-text-stroke:0.3px #3a4a5e;"><span style="font-weight:bold;color:#1f3550;-webkit-text-stroke-color:#1f3550">satisfaits</span><span style="font-weight:normal;"> ou</span></div><div class="t" style="left:775.60px;top:911.69px;font-size:17.5px;line-height:17.5px;font-weight:bold;color:#1a1a1a;font-family:'Liberation Sans',sans-serif;transform:scaleX(0.9025);-webkit-text-stroke:0.4px #1a1a1a;">partiellement satisfaits</div>
<svg width="1024" height="976" viewBox="0 0 1024 976">
<!-- pants -->
<path d="M575.5 928 L649.5 924 L651 966 L577 966 Z" fill="#d6b98a" stroke="#222" stroke-width="1.4"/>
<path d="M617 935 L619 966 M623 952 L614 966" stroke="#444" stroke-width="0.8" fill="none"/>
<!-- right hand -->
<path d="M650.5 934 Q660 936 660.5 948 Q663 958 661 966 L650 966 Z" fill="#f3c9a2" stroke="#222" stroke-width="1.3"/>
<!-- sweater -->
<path d="M588 803 L622 806 Q637 812 643 817.4 Q651 826 651.7 838.3 Q658 862 660.4 887 Q663 905 663.9 922 Q663 932 660.4 935.8 L650 934 L649 924.5 L576.8 929.7 Q572 918 570 904.5 Q567 890 564.6 876.6 Q552 874 545.4 864.4 Q538 856 540.2 848 Q541 836 546 828 Q550 816 557.6 812.2 Q570 806 588 803 Z" fill="#e8917c" stroke="#222" stroke-width="1.6"/>
<path d="M646.4 834.8 Q652 880 655 922 M582 869.7 Q592 886 601.2 902.7 M575 921.9 Q610 918 649 915 M650 926 L662 927" stroke="#3a2020" stroke-width="1" fill="none"/>
<!-- fist + thumb -->
<path d="M559 816 L559 788 Q560 781.5 566.7 781.5 Q573.6 782 573.6 789 L573 813.4 L585.5 819.2 Q590 826 589 834.8 Q590 848 587.2 859.2 Q580 867 568 867 Q559 865 557.6 859.2 Q551 850 551.5 838.3 Q549 828 550.7 822.6 Q553 817 559 816 Z" fill="#f3c9a2" stroke="#222" stroke-width="1.6"/>
<path d="M562 827.9 L588 827 M560 840 L588 839.5 M561 850.5 L586 851" stroke="#333" stroke-width="1.2"/>
<!-- neck -->
<path d="M594 786 L593 800 L607 806 L617.5 800 L617 786 Z" fill="#f3c9a2"/>
<!-- collar -->
<path d="M591 793 L587.6 803.2 L599.7 812.1 L607 803 L614.5 812 L622.8 805.5 L620 793 L607 802 Z" fill="#fff" stroke="#222" stroke-width="1.2"/>
<path d="M599.5 810 Q609 813 618 810.5" stroke="#a04a3a" stroke-width="1.2" fill="none"/>
<!-- ears -->
<ellipse cx="585.5" cy="771" rx="5" ry="7" fill="#f3c9a2" stroke="#222" stroke-width="1.3"/>
<ellipse cx="631" cy="771" rx="4.5" ry="7" fill="#f3c9a2" stroke="#222" stroke-width="1.3"/>
<!-- face -->
<path d="M590 752 Q589 780 595 789 Q601 797 607.3 797 Q616 796 622 789 Q628.5 780 628.9 752 Q628 740 610 740 Q591 740 590 752 Z" fill="#f3c9a2" stroke="#222" stroke-width="1.4"/>
<!-- hair -->
<path d="M584.4 764 Q580 752 582.5 747.4 Q585 740 590.8 738.5 Q598 729 611 727.7 Q626 728 630 733.4 Q636 740 635.2 751.2 Q634 758 629 764 L626.3 763 Q627 752 626.3 747.4 Q616 744 606 744.9 Q597 744.5 593.3 746 Q591 754 590.8 763.9 Z" fill="#323849" stroke="#1a1d28" stroke-width="1.1"/>
<ellipse cx="601.6" cy="766" rx="2.8" ry="3.8" fill="#111"/>
<ellipse cx="619.3" cy="766" rx="2.8" ry="3.8" fill="#111"/>
<path d="M597 757.5 Q601.5 754.5 606 757.5 M615 757.5 Q619.5 754.5 624 757.5" stroke="#222" stroke-width="1.4" fill="none"/>
<path d="M611 762 Q614 772 610.5 774.5" stroke="#333" stroke-width="1.1" fill="none"/>
<path d="M599.7 779.8 Q609 782 618.7 779.8 Q616 788 609.2 788 Q602 788 599.7 779.8 Z" fill="#fff" stroke="#222" stroke-width="1.3"/>
</svg>
</body></html>
